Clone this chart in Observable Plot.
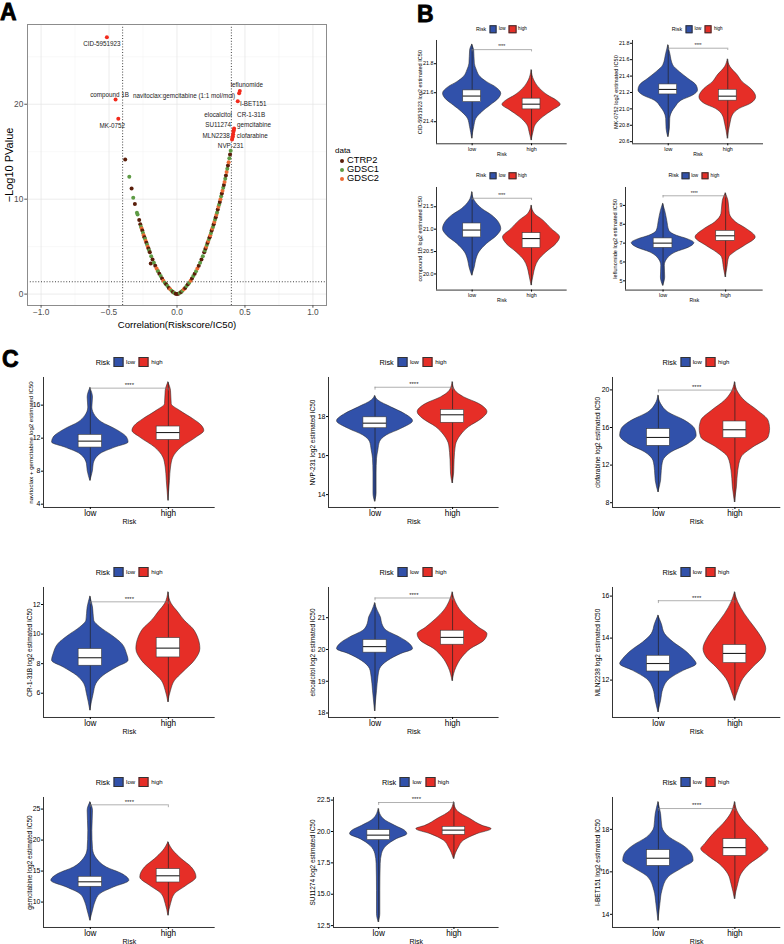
<!DOCTYPE html>
<html>
<head>
<meta charset="utf-8">
<script src="https://cdn.jsdelivr.net/npm/d3@7"></script>
<script src="https://cdn.jsdelivr.net/npm/@observablehq/plot@0.6"></script>
<style>
  body { margin: 0; background: #fff; }
  #fig { position: relative; width: 784px; height: 944px; overflow: hidden; background: #fff;
         font-family: "Liberation Sans", Arial, sans-serif; color: #000; }
  .tag { position: absolute; font-weight: bold; font-size: 23px; line-height: 23px;
         -webkit-text-stroke: 0.8px #000; }
  .lg { position: absolute; display: flex; align-items: center; white-space: nowrap;
        transform: translate(-50%, -50%); }
  .sw { display: inline-block; box-sizing: border-box; border: 0.8px solid #333; }
</style>
</head>
<body>
<div id="fig"></div>
<script>
// ---------- Panel A: correlation of risk score with drug IC50 ----------
// [correlation, -log10 P] per drug, grouped by source database
const ctrp2 = [
  [0, 0], [0.01, 0.05], [0.03, 0.22], [0.06, 0.65], [0.08, 1.05], [0.11, 1.65], [0.13, 2.15],
  [0.16, 3.0], [0.18, 3.65], [0.20, 4.4], [0.21, 4.8], [0.225, 5.4], [0.24, 6.0], [0.255, 6.7],
  [0.27, 7.35], [0.285, 8.1], [0.30, 8.9], [0.315, 9.7], [0.33, 10.6], [0.345, 11.5], [0.36, 12.5],
  [0.375, 13.55], [0.39, 14.7],
  [-0.01, 0.05], [-0.03, 0.22], [-0.06, 0.65], [-0.08, 1.05], [-0.11, 1.65], [-0.13, 2.15],
  [-0.16, 3.0], [-0.18, 3.65], [-0.20, 4.4], [-0.21, 4.8], [-0.225, 5.4], [-0.24, 6.0],
  [-0.255, 6.7], [-0.27, 7.35], [-0.278, 7.8], [-0.31, 9.5], [-0.334, 11.12], [-0.381, 14.18],
  [-0.193, 3.23]
];
const gdsc1 = [
  [0.02, 0.12], [0.04, 0.35], [0.07, 0.85], [0.09, 1.2], [0.12, 1.9], [0.14, 2.4], [0.17, 3.3],
  [0.19, 4.0], [0.205, 4.6], [0.22, 5.2], [0.235, 5.8], [0.25, 6.45], [0.265, 7.1], [0.28, 7.85],
  [0.295, 8.6], [0.31, 9.45], [0.325, 10.3], [0.34, 11.2], [0.355, 12.15], [0.37, 13.2],
  [0.385, 14.3], [0.395, 15.1],
  [-0.02, 0.12], [-0.04, 0.35], [-0.07, 0.85], [-0.09, 1.2], [-0.12, 1.9], [-0.14, 2.4],
  [-0.17, 3.3], [-0.19, 4.0], [-0.205, 4.6], [-0.22, 5.2], [-0.235, 5.8], [-0.25, 6.45],
  [-0.265, 7.1], [-0.29, 8.39], [-0.295, 8.56], [-0.322, 10.14], [-0.351, 12.35]
];
const gdsc2 = [
  [0.05, 0.5], [0.10, 1.4], [0.15, 2.7], [0.215, 5.0], [0.23, 5.6], [0.245, 6.2], [0.26, 6.9],
  [0.275, 7.6], [0.29, 8.35], [0.305, 9.2], [0.32, 10.0], [0.335, 10.9], [0.35, 11.8],
  [0.365, 12.85], [0.38, 13.9],
  [-0.05, 0.5], [-0.10, 1.4], [-0.15, 2.7], [-0.215, 5.0], [-0.23, 5.6], [-0.245, 6.2],
  [-0.26, 6.9], [-0.142, 2.46]
];
const sources = ["CTRP2", "GDSC1", "GDSC2"];

// Drugs passing both cut-offs (labelled)
const topDrugs = ["CID-5951923", "compound 1B", "MK-0752", "leflunomide",
  "navitoclax:gemcitabine (1:1 mol/mol)", "I-BET151", "CR-1-31B", "elocalcitol",
  "SU11274", "gemcitabine", "MLN2238", "clofarabine", "NVP-231"];
const topCorr = [-0.516, -0.452, -0.432, 0.462, 0.457, 0.447, 0.42, 0.417, 0.415, 0.413, 0.41, 0.408, 0.405];
const topLogP = [27.05, 20.49, 18.46, 21.4, 21.16, 20.32, 17.44, 17.26, 17.09, 16.84, 16.63, 16.49, 16.28];
const corrCut = 0.4;
const pCut = 0.05;

// ---------- Panels B & C: estimated IC50 by risk group ----------
const riskGroups = ["low", "high"];
const violinDrugs = ["CID-5951923", "MK-0752", "compound 1B", "leflunomide",
  "navitoclax + gemcitabine", "NVP-231", "clofarabine", "CR-1-31B", "elocalcitol",
  "MLN2238", "gemcitabine", "SU11274", "I-BET151"];
const yTicks = [
  [21.4, 21.6, 21.8], [20.6, 20.8, 21.0, 21.2, 21.4, 21.6, 21.8], [20.0, 20.5, 21.0, 21.5], [5, 6, 7, 8, 9],
  [4, 8, 12, 16], [14, 16, 18], [8, 12, 16, 20],
  [6, 8, 10, 12], [18, 19, 20, 21], [12, 14, 16],
  [10, 15, 20, 25], [12.5, 15, 17.5, 20, 22.5], [14, 16, 18]
];
const tickDigits = [1, 1, 1, 0, 0, 0, 0, 0, 0, 0, 0, 1, 0];

// Density outline of each violin: [log2 IC50, half width]
const lowProfiles = [
  [[21.93,0],[21.89,0.034],[21.80,0.045],[21.754,0.08],[21.708,0.14],[21.673,0.25],[21.64,0.39],[21.593,0.49],[21.559,0.45],[21.512,0.31],[21.466,0.17],[21.42,0.07],[21.363,0.035],[21.283,0]],
  [[21.773,0],[21.672,0.034],[21.53,0.084],[21.448,0.196],[21.367,0.336],[21.285,0.476],[21.224,0.5],[21.163,0.42],[21.1,0.224],[21.02,0.123],[20.96,0.067],[20.88,0.034],[20.757,0.028],[20.655,0]],
  [[21.82,0],[21.63,0.045],[21.45,0.17],[21.3,0.34],[21.15,0.45],[21.0,0.49],[20.85,0.42],[20.67,0.25],[20.48,0.12],[20.3,0.067],[20.15,0.045],[19.96,0]],
  [[9.07,0],[8.71,0.034],[8.18,0.067],[7.65,0.1],[7.39,0.22],[7.21,0.39],[7.0,0.5],[6.77,0.42],[6.5,0.2],[6.15,0.067],[5.8,0.028],[5.18,0.034],[4.73,0]],
  [[18.06,0],[16.92,0.034],[15.7,0.026],[14.7,0.064],[13.9,0.15],[13.09,0.32],[12.07,0.47],[11.47,0.49],[10.86,0.32],[10.06,0.128],[8.85,0.043],[8.04,0.034],[6.82,0]],
  [[19.04,0],[18.82,0.043],[18.47,0.21],[18.14,0.38],[17.76,0.49],[17.37,0.34],[17.03,0.15],[16.69,0.064],[16.27,0.043],[15.84,0.026],[15.08,0.02],[14.06,0.02],[13.63,0]],
  [[19.37,0],[18.49,0.035],[17.6,0.13],[16.71,0.35],[15.83,0.48],[15.12,0.5],[14.23,0.39],[13.34,0.17],[12.46,0.065],[11.39,0.044],[10.33,0.035],[9.09,0]],
  [[12.52,0],[11.8,0.034],[10.9,0.05],[10.45,0.128],[9.89,0.28],[9.32,0.41],[8.65,0.47],[8.2,0.49],[7.74,0.34],[7.18,0.17],[6.62,0.077],[5.95,0.043],[4.82,0]],
  [[21.45,0],[21.22,0.034],[21.0,0.077],[20.8,0.094],[20.59,0.15],[20.38,0.32],[20.17,0.45],[20.01,0.49],[19.86,0.34],[19.64,0.17],[19.38,0.064],[19.12,0.043],[18.7,0.026],[18.05,0]],
  [[15.06,0],[14.67,0.044],[14.19,0.087],[13.79,0.2],[13.4,0.35],[13.0,0.46],[12.76,0.5],[12.44,0.33],[12.05,0.15],[11.57,0.065],[11.01,0.035],[10.46,0]],
  [[26.06,0],[24.73,0.034],[21.5,0.026],[18.55,0.034],[16.94,0.085],[15.58,0.21],[14.52,0.41],[13.44,0.5],[12.35,0.3],[11.29,0.128],[9.94,0.064],[8.6,0.034],[6.98,0]],
  [[21.78,0],[20.99,0.066],[20.45,0.22],[20.06,0.35],[19.79,0.38],[19.39,0.24],[18.86,0.11],[18.2,0.044],[17.4,0.027],[15.27,0.022],[13.42,0.022],[12.75,0]],
  [[19.27,0],[18.72,0.035],[18.09,0.052],[17.61,0.15],[17.22,0.33],[16.83,0.44],[16.52,0.46],[16.2,0.33],[15.73,0.13],[15.1,0.052],[14.48,0.026],[13.69,0]]
];
const highProfiles = [
  [[21.754,0],[21.685,0.045],[21.628,0.14],[21.58,0.28],[21.547,0.42],[21.517,0.49],[21.478,0.36],[21.432,0.2],[21.375,0.067],[21.33,0.034],[21.27,0]],
  [[21.6,0],[21.51,0.045],[21.407,0.17],[21.326,0.25],[21.245,0.39],[21.143,0.476],[21.062,0.39],[21.0,0.2],[20.92,0.084],[20.82,0.045],[20.635,0]],
  [[21.52,0],[21.34,0.056],[21.19,0.2],[21.0,0.34],[20.815,0.48],[20.67,0.42],[20.48,0.25],[20.3,0.12],[20.15,0.067],[19.96,0.034],[19.74,0]],
  [[9.63,0],[9.24,0.045],[8.54,0.067],[8.09,0.17],[7.74,0.34],[7.3,0.48],[6.86,0.31],[6.5,0.14],[6.24,0.056],[5.7,0.028],[5.18,0]],
  [[18.74,0],[17.73,0.034],[16.12,0.043],[15.31,0.15],[14.3,0.32],[13.49,0.43],[12.88,0.46],[12.07,0.36],[10.86,0.17],[9.65,0.064],[8.44,0.034],[6.82,0.02],[4.4,0]],
  [[19.75,0],[19.33,0.034],[18.98,0.15],[18.65,0.34],[18.22,0.45],[17.88,0.38],[17.45,0.21],[17.03,0.107],[16.52,0.043],[15.76,0.026],[15.08,0.02],[14.57,0]],
  [[20.79,0],[19.72,0.044],[18.84,0.13],[17.78,0.3],[16.71,0.44],[15.83,0.46],[14.94,0.44],[13.87,0.24],[12.81,0.087],[11.39,0.044],[9.62,0.026],[8.02,0]],
  [[12.81,0],[12.03,0.043],[11.46,0.128],[10.9,0.21],[10.34,0.32],[9.77,0.38],[8.99,0.41],[8.2,0.34],[7.41,0.19],[6.84,0.085],[6.17,0.034],[5.38,0]],
  [[21.79,0],[21.48,0.043],[21.22,0.107],[20.96,0.21],[20.69,0.34],[20.48,0.45],[20.27,0.41],[20.01,0.235],[19.75,0.128],[19.43,0.05],[19.0,0]],
  [[16.17,0],[15.7,0.044],[15.14,0.13],[14.5,0.26],[14.03,0.35],[13.48,0.41],[13.08,0.37],[12.6,0.24],[12.05,0.11],[11.49,0.044],[11.01,0]],
  [[19.61,0],[18.27,0.064],[16.94,0.17],[15.58,0.3],[13.97,0.36],[12.63,0.235],[11.29,0.085],[9.68,0.034],[7.79,0]],
  [[22.31,0],[21.65,0.044],[20.99,0.22],[20.45,0.38],[20.19,0.5],[19.79,0.31],[19.26,0.13],[18.73,0.066],[17.8,0]],
  [[19.27,0],[18.72,0.052],[18.25,0.15],[17.78,0.28],[17.3,0.39],[17.07,0.44],[16.75,0.35],[16.36,0.2],[15.89,0.087],[15.42,0.044],[14.71,0]]
];
// Box statistics [Q1, median, Q3]
const lowBoxes = [
  [21.535,21.577,21.616], [21.176,21.237,21.298], [20.815,20.98,21.127], [6.75,7.0,7.25],
  [10.86,11.64,12.4], [17.4,17.66,17.96], [14.05,14.94,15.83],
  [7.86,8.4,8.99], [19.9,20.09,20.3], [12.41,12.79,13.16],
  [12.47,13.27,14.08], [19.31,19.71,20.11], [16.28,16.64,17.02]
];
const highBoxes = [
  [21.485,21.521,21.559], [21.1,21.155,21.233], [20.58,20.79,20.91], [7.12,7.39,7.65],
  [11.79,12.68,13.41], [17.68,18.09,18.34], [14.87,15.76,16.64],
  [8.42,9.05,9.73], [20.15,20.38,20.59], [12.81,13.27,13.67],
  [13.16,14.24,15.32], [19.74,20.11,20.37], [16.75,17.14,17.54]
];
// Height of the Wilcoxon comparison bracket (p < 0.0001)
const bracketAt = [21.897, 21.74, 21.69, 9.51, 18.06, 19.5, 19.98, 12.18, 21.62, 15.78, 25.69, 22.31, 18.98];
const sigLabel = "****";

// ---------- styling & layout ----------
const FONT = "Liberation Sans, Arial, sans-serif";
const riskColors = ["#3151AA", "#E62E27"];
const sourceColors = ["#5a1e0a", "#5e9b45", "#ec6a33"];
const hitColor = "#f22a1c";

const frames = [
  {left: 436,   top: 40,    right: 566.7, bottom: 143.3, domain: [21.248, 21.96], small: true, titleGap: 16},
  {left: 631.7, top: 40,    right: 762.7, bottom: 143.3, domain: [20.574, 21.834], small: true, titleGap: 16.7},
  {left: 436,   top: 186.7, right: 566.7, bottom: 289.3, domain: [19.64, 21.93], small: true, titleGap: 16},
  {left: 625,   top: 186.7, right: 762.7, bottom: 289.3, domain: [4.51, 9.95], small: true, titleGap: 10},
  {left: 43.3,  top: 376.7, right: 215,   bottom: 506.7, domain: [3.6, 19.35], titleGap: 12.8, titleSize: 6.1},
  {left: 327.7, top: 376.7, right: 498.3, bottom: 506.7, domain: [13.34, 20.0], titleGap: 16},
  {left: 611.7, top: 376.7, right: 780,   bottom: 506.7, domain: [7.49, 21.32], titleGap: 15},
  {left: 43.3,  top: 586.7, right: 215,   bottom: 716.7, domain: [4.36, 13.15], titleGap: 13.3},
  {left: 327.7, top: 586.7, right: 498.3, bottom: 716.7, domain: [17.86, 21.95], titleGap: 16},
  {left: 611.7, top: 586.7, right: 780,   bottom: 716.7, domain: [10.22, 16.41], titleGap: 15},
  {left: 43.3,  top: 796.7, right: 215,   bottom: 926.7, domain: [5.9, 26.87], titleGap: 13.3},
  {left: 332.7, top: 796.7, right: 498.3, bottom: 926.7, domain: [12.35, 22.71], titleGap: 21},
  {left: 611.7, top: 796.7, right: 780,   bottom: 926.7, domain: [13.38, 19.5], titleGap: 15}
];
const sizeC = {tick: 7, xtick: 8.2, title: 6.5, risk: 7, stars: 6, riskGap: 13.8,
               lgTitle: 7.3, lgText: 6, swatch: 10, lgOffset: 14.4, lgGap: 2.6};
const sizeB = {tick: 5.4, xtick: 5.4, title: 5.6, risk: 5, stars: 4.6, riskGap: 10.2,
               lgTitle: 5.3, lgText: 4.6, swatch: 7.5, lgOffset: 11, lgGap: 2};
// label nudges (px) for the labelled drugs in panel A
const labelNudge = [[-5,6.3],[-6,-5],[-6,6.7],[7,-5.7],[-55,2.7],[15.5,2.3],[17,-14],[-15.6,-15.7],[-15.2,-6.6],[20.8,-9],[-16.5,-0.3],[19.8,-1.7],[-1.4,6.4]];

const fig = document.getElementById("fig");
function place(node, left, top) {
  node.style.position = "absolute";
  node.style.left = left + "px";
  node.style.top = top + "px";
  fig.appendChild(node);
}
function tag(letter, left, top) {
  const d = document.createElement("div");
  d.className = "tag";
  d.textContent = letter;
  place(d, left, top);
}

// ---------- Panel A ----------
const xA = [-1.1, 1.1], yA = [-1.2, 28.4];
const corrRows = [ctrp2, gdsc1, gdsc2].flatMap((arr, k) => arr.map(([r, p]) => ({r, p, data: sources[k]})))
  .sort((a, b) => a.r - b.r);
const hits = topDrugs.map((name, k) => ({name, r: topCorr[k], p: topLogP[k]}));
const gridMajor = {stroke: "#e4e4e4", strokeWidth: 0.7};
const gridMinor = {stroke: "#f2f2f2", strokeWidth: 0.5};
const panelA = Plot.plot({
  width: 340, height: 330,
  marginLeft: 27, marginRight: 14, marginTop: 24, marginBottom: 25,
  style: {fontFamily: FONT, background: "transparent", overflow: "visible"},
  x: {domain: xA},
  y: {domain: yA},
  color: {domain: sources, range: sourceColors},
  marks: [
    Plot.ruleX([-0.75, -0.25, 0.25, 0.75], gridMinor),
    Plot.ruleY([5, 15, 25], gridMinor),
    Plot.ruleX([-1, -0.5, 0, 0.5, 1], gridMajor),
    Plot.ruleY([0, 10, 20], gridMajor),
    Plot.ruleX([-corrCut, corrCut], {stroke: "#111", strokeWidth: 0.8, strokeDasharray: "1,1.8"}),
    Plot.ruleY([-Math.log10(pCut)], {stroke: "#111", strokeWidth: 0.8, strokeDasharray: "1,1.8"}),
    Plot.dot(corrRows, {x: "r", y: "p", fill: "data", r: 2}),
    Plot.dot(hits, {x: "r", y: "p", fill: hitColor, r: 2}),
    ...hits.map((h, k) => Plot.text([h], {
      x: "r", y: "p", text: "name", fontSize: 6.3, fill: "#222",
      dx: labelNudge[k][0], dy: labelNudge[k][1]
    })),
    Plot.frame({stroke: "#8c8c8c", strokeWidth: 1}),
    Plot.axisX({ticks: [-1, -0.5, 0, 0.5, 1], tickFormat: d3.format(".1f"), tickSize: 2.7,
                tickPadding: 1.2, fontSize: 8.3, stroke: "#555", fill: "#4d4d4d", label: null}),
    Plot.axisY({ticks: [0, 10, 20], tickSize: 2.7, tickPadding: 1.5, fontSize: 8.3,
                stroke: "#555", fill: "#4d4d4d", label: null}),
    Plot.text(["Correlation(Riskscore/IC50)"], {x: () => (xA[0] + xA[1]) / 2, y: () => yA[0],
                text: d => d, dy: 19.5, fontSize: 9.6}),
    Plot.text(["\u2212Log10 PValue"], {x: () => xA[0], y: () => (yA[0] + yA[1]) / 2,
                text: d => d, rotate: -90, dx: -18, fontSize: 11})
  ]
});
place(panelA, 0, 0);

// legend for panel A
{
  const d = document.createElement("div");
  d.style.cssText = `position:absolute;left:335px;top:146px;font-family:${FONT};`;
  d.innerHTML = `<div style="font-size:8px;height:10px;line-height:10px">data</div>` +
    sources.map((s, k) => `<div style="display:flex;align-items:center;height:9px;line-height:9px;font-size:9.3px">
      <span style="display:inline-block;width:4px;height:4px;border-radius:50%;background:${sourceColors[k]};margin:0 3px 0 5px"></span>${s}</div>`).join("");
  fig.appendChild(d);
}

// ---------- violin panels ----------
function riskLegend(cx, cy, S) {
  const d = document.createElement("div");
  d.className = "lg";
  d.style.left = cx + "px";
  d.style.top = cy + "px";
  d.style.fontFamily = FONT;
  d.innerHTML = `<span style="font-size:${S.lgTitle}px;margin-right:${S.lgGap + 1}px">Risk</span>` +
    riskGroups.map((g, k) => `<span class="sw" style="width:${S.swatch}px;height:${S.swatch}px;background:${riskColors[k]};margin-right:${S.lgGap}px"></span>` +
      `<span style="font-size:${S.lgText}px;margin-right:${k ? 0 : S.lgGap + 1}px">${g}</span>`).join("");
  fig.appendChild(d);
}

function violinPanel(i) {
  const f = frames[i];
  const S = f.small ? sizeB : sizeC;
  const ML = 34, MR = 6, MT = 8, MB = f.small ? 16 : 22;
  const xDomain = [0.4, 2.6];
  const profiles = [lowProfiles[i], highProfiles[i]];
  const boxes = [lowBoxes[i], highBoxes[i]].map(([q1, med, q3], g) => ({pos: g + 1, q1, med, q3}));
  const spans = profiles.map((prof, g) => ({pos: g + 1, lo: d3.min(prof, d => d[0]), hi: d3.max(prof, d => d[0])}));
  const b = bracketAt[i];
  const drop = (f.domain[1] - f.domain[0]) * 0.022;
  const fmt = d3.format("." + tickDigits[i] + "f");
  const violins = profiles.map((prof, g) => Plot.areaX(prof, {
    x1: d => g + 1 - d[1], x2: d => g + 1 + d[1], y: d => d[0],
    fill: riskColors[g], stroke: "#262626", strokeWidth: 0.55, curve: "monotone-y"
  }));
  const svg = Plot.plot({
    width: f.right - f.left + ML + MR,
    height: f.bottom - f.top + MT + MB,
    marginLeft: ML, marginRight: MR, marginTop: MT, marginBottom: MB,
    style: {fontFamily: FONT, background: "transparent", overflow: "visible", color: "#000"},
    x: {domain: xDomain},
    y: {domain: f.domain},
    marks: [
      ...violins,
      Plot.ruleX(spans, {x: "pos", y1: "lo", y2: "hi", stroke: "#222", strokeWidth: 0.7}),
      Plot.rect(boxes, {x1: d => d.pos - 0.15, x2: d => d.pos + 0.15, y1: "q1", y2: "q3",
                        fill: "white", stroke: "#3a3a3a", strokeWidth: 0.6}),
      Plot.ruleY(boxes, {y: "med", x1: d => d.pos - 0.15, x2: d => d.pos + 0.15, stroke: "#222", strokeWidth: 1.1}),
      Plot.ruleY([b], {y: d => d, x1: () => 1, x2: () => 2, stroke: "#7a7a7a", strokeWidth: 0.6}),
      Plot.ruleX([1, 2], {x: d => d, y1: () => b, y2: () => b - drop, stroke: "#7a7a7a", strokeWidth: 0.6}),
      Plot.text([sigLabel], {x: () => 1.5, y: () => b, text: d => d, lineAnchor: "bottom", dy: -1.2,
                             fontSize: S.stars, fill: "#222"}),
      Plot.ruleX([xDomain[0]], {stroke: "#000", strokeWidth: 0.8}),
      Plot.ruleY([f.domain[0]], {stroke: "#000", strokeWidth: 0.8}),
      Plot.axisY({ticks: yTicks[i], tickFormat: fmt, tickSize: 2, tickPadding: 1, fontSize: S.tick, label: null}),
      Plot.axisX({ticks: [1, 2], tickFormat: d => riskGroups[d - 1], tickSize: 2, tickPadding: 1,
                  fontSize: S.xtick, label: null}),
      Plot.text([violinDrugs[i] + " log2 estimated IC50"], {
        x: () => xDomain[0], y: () => (f.domain[0] + f.domain[1]) / 2, rotate: -90,
        dx: -f.titleGap, text: d => d, fontSize: f.titleSize || S.title}),
      Plot.text(["Risk"], {x: () => (xDomain[0] + xDomain[1]) / 2, y: () => f.domain[0],
        dy: S.riskGap, text: d => d, fontSize: S.risk})
    ]
  });
  place(svg, f.left - ML, f.top - MT);
  riskLegend((f.left + f.right) / 2, f.top - S.lgOffset, S);
}
frames.forEach((_, i) => violinPanel(i));

tag("A", 0, 1);
tag("B", 417, 3);
tag("C", 2, 348);
</script>
</body>
</html>
